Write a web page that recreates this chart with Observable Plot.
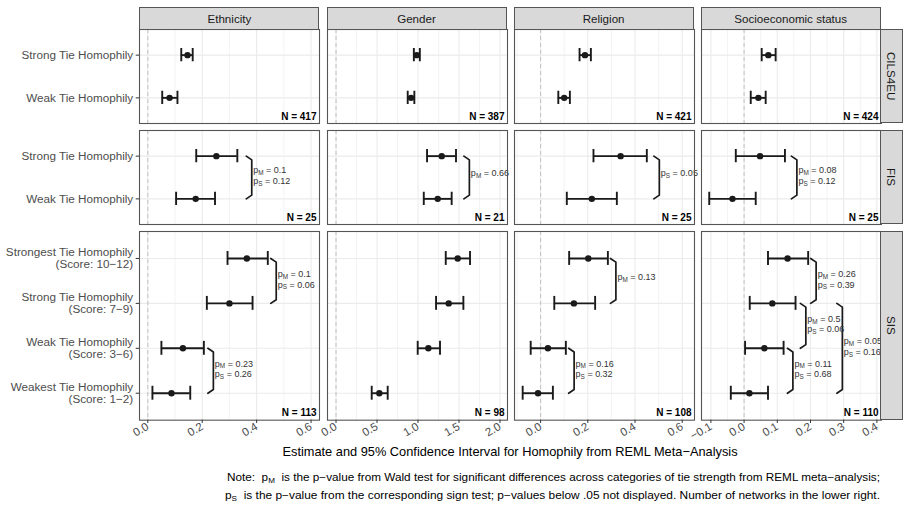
<!DOCTYPE html>
<html><head><meta charset="utf-8">
<script src="https://cdn.jsdelivr.net/npm/d3@7"></script>
<script src="https://cdn.jsdelivr.net/npm/@observablehq/plot@0.6"></script>
<style>
body{margin:0;background:#fff;font-family:"Liberation Sans",Arial,Helvetica,sans-serif;}
#chart{position:relative;width:905px;height:508px;overflow:hidden;background:#fff;}
#chart > svg{position:absolute;}
.strip{position:absolute;box-sizing:border-box;background:#d9d9d9;border:1px solid #555;color:#1a1a1a;font-size:11.6px;display:flex;align-items:center;justify-content:center;}
.strip.v span{writing-mode:vertical-rl;}
.xtitle{position:absolute;left:139px;width:742px;text-align:center;font-size:12.8px;color:#000;white-space:nowrap;}
</style></head><body><div id="chart"></div><script>
// ---------- data ----------
const attributes = ["Ethnicity", "Gender", "Religion", "Socioeconomic status"];
const studies = ["CILS4EU", "FIS", "SIS"];
const tieLabels = [
  ["Strong Tie Homophily", "Weak Tie Homophily"],
  ["Strong Tie Homophily", "Weak Tie Homophily"],
  ["Strongest Tie Homophily\n(Score: 10−12)", "Strong Tie Homophily\n(Score: 7−9)",
   "Weak Tie Homophily\n(Score: 3−6)", "Weakest Tie Homophily\n(Score: 1−2)"]
];
// rows: attribute (Ethnicity, Gender, Religion, SES); columns: tie category (top to bottom)
const cilsEst = [[0.146, 0.080], [0.984, 0.915], [0.188, 0.100], [0.073, 0.043]];
const cilsLo  = [[0.123, 0.053], [0.949, 0.874], [0.165, 0.075], [0.053, 0.020]];
const cilsHi  = [[0.165, 0.109], [1.022, 0.955], [0.213, 0.124], [0.095, 0.065]];
const fisEst  = [[0.252, 0.176], [1.289, 1.240], [0.339, 0.217], [0.048, -0.035]];
const fisLo   = [[0.178, 0.104], [1.110, 1.070], [0.224, 0.111], [-0.025, -0.105]];
const fisHi   = [[0.329, 0.247], [1.463, 1.410], [0.450, 0.323], [0.123, 0.035]];
const sisEst  = [[0.364, 0.300, 0.129, 0.087], [1.484, 1.374, 1.126, 0.528], [0.202, 0.141, 0.031, -0.011], [0.131, 0.085, 0.061, 0.016]];
const sisLo   = [[0.293, 0.217, 0.050, 0.017], [1.338, 1.220, 0.996, 0.435], [0.121, 0.058, -0.042, -0.076], [0.072, 0.017, 0.003, -0.040]];
const sisHi   = [[0.441, 0.385, 0.206, 0.156], [1.634, 1.553, 1.268, 0.630], [0.285, 0.231, 0.107, 0.052], [0.193, 0.155, 0.119, 0.072]];
const networks = [[417, 387, 421, 424], [25, 21, 25, 25], [113, 98, 108, 110]];
// comparison brackets: tie rows "from"-"to", x of bracket in data units, p-values
const brackets = [
  {study: "FIS", attr: "Ethnicity", from: 0, to: 1, at: 0.382, pM: 0.1, pS: 0.12},
  {study: "FIS", attr: "Gender", from: 0, to: 1, at: 1.626, pM: 0.66, pS: null},
  {study: "FIS", attr: "Religion", from: 0, to: 1, at: 0.503, pM: null, pS: 0.05},
  {study: "FIS", attr: "Socioeconomic status", from: 0, to: 1, at: 0.159, pM: 0.08, pS: 0.12},
  {study: "SIS", attr: "Ethnicity", from: 0, to: 1, at: 0.472, pM: 0.1, pS: 0.06},
  {study: "SIS", attr: "Ethnicity", from: 2, to: 3, at: 0.241, pM: 0.23, pS: 0.26},
  {study: "SIS", attr: "Religion", from: 0, to: 1, at: 0.319, pM: 0.13, pS: null},
  {study: "SIS", attr: "Religion", from: 2, to: 3, at: 0.142, pM: 0.16, pS: 0.32},
  {study: "SIS", attr: "Socioeconomic status", from: 0, to: 1, at: 0.217, pM: 0.26, pS: 0.39},
  {study: "SIS", attr: "Socioeconomic status", from: 1, to: 2, at: 0.186, pM: 0.5, pS: 0.06},
  {study: "SIS", attr: "Socioeconomic status", from: 2, to: 3, at: 0.147, pM: 0.11, pS: 0.68},
  {study: "SIS", attr: "Socioeconomic status", from: 1, to: 3, at: 0.296, pM: 0.05, pS: 0.16}
];
const xDomains = [[-0.0305, 0.631], [-0.104, 2.091], [-0.1106, 0.652], [-0.1283, 0.4139]];
const majorTicks = [[0, 0.2, 0.4, 0.6], [0, 0.5, 1, 1.5, 2], [0, 0.2, 0.4, 0.6], [-0.1, 0, 0.1, 0.2, 0.3, 0.4]];
const minorTicks = [[0.1, 0.3, 0.5], [0.25, 0.75, 1.25, 1.75], [-0.1, 0.1, 0.3, 0.5], [-0.05, 0.05, 0.15, 0.25, 0.35]];
const xTitle = "Estimate and 95% Confidence Interval for Homophily from REML Meta−Analysis";

// ---------- layout ----------
const ML = 140, MR = 10, MT = 6, MB = 40;
const colLeft = [139.4, 326.5, 513.6, 700.7], colW = 180;
const rowTop = [29.3, 130, 231.3], rowH = [94, 94, 188.7];
const ink = "#1a1a1a", grid = "#ebebeb";
const estArr = [cilsEst, fisEst, sisEst], loArr = [cilsLo, fisLo, sisLo], hiArr = [cilsHi, fisHi, sisHi];
const chart = document.getElementById("chart");
const NS = "http://www.w3.org/2000/svg";

for (let r = 0; r < 3; r++) {
  for (let c = 0; c < 4; c++) {
    const labels = tieLabels[r], n = labels.length;
    const rows = labels.map((lab, i) => ({i, est: estArr[r][c][i], lo: loArr[r][c][i], hi: hiArr[r][c][i]}));
    const dom = xDomains[c];
    const unitPerPx = (dom[1] - dom[0]) / colW;
    const pxPerRow = rowH[r] / (n - 1 + 1.2);
    const bks = brackets.filter(b => b.study === studies[r] && b.attr === attributes[c]);
    const bkPts = bks.flatMap((b, k) => {
      const hook = b.at - 5.5 * unitPerPx, d = 3.7 / pxPerRow;
      return [{k, x: hook, y: b.from}, {k, x: b.at, y: b.from + d}, {k, x: b.at, y: b.to - d}, {k, x: hook, y: b.to}];
    });
    const pLabels = bks.flatMap(b => {
      const mid = (b.from + b.to) / 2;
      const parts = [];
      if (b.pM != null) parts.push({s: "M", v: b.pM});
      if (b.pS != null) parts.push({s: "S", v: b.pS});
      return parts.map((p, j) => ({x: b.at, y: mid + (parts.length === 1 ? -4 : (j === 0 ? -7 : 3.7)) / pxPerRow, s: p.s, v: p.v}));
    });
    const marks = [
      Plot.ruleX(minorTicks[c], {stroke: grid, strokeWidth: 0.6}),
      Plot.ruleX(majorTicks[c], {stroke: grid, strokeWidth: 1.1}),
      Plot.ruleY(d3.range(n), {stroke: grid, strokeWidth: 1.1}),
      Plot.ruleX([0], {stroke: "#c2c2c2", strokeWidth: 1, strokeDasharray: "4,3"}),
      Plot.ruleY(rows, {y: "i", x1: "lo", x2: "hi", stroke: ink, strokeWidth: 1.9}),
      Plot.ruleX(rows, {x: "lo", y1: d => d.i - 0.155, y2: d => d.i + 0.155, stroke: ink, strokeWidth: 1.9}),
      Plot.ruleX(rows, {x: "hi", y1: d => d.i - 0.155, y2: d => d.i + 0.155, stroke: ink, strokeWidth: 1.9}),
      Plot.dot(rows, {x: "est", y: "i", r: 3.2, fill: ink, stroke: null}),
      Plot.line(bkPts, {x: "x", y: "y", z: "k", stroke: ink, strokeWidth: 1.7, curve: "linear"}),
      Plot.text(pLabels, {x: "x", y: "y", text: d => `p${d.s} = ${d.v}`, textAnchor: "start", dx: 1.5, fontSize: 9, fill: "#333"}),
      Plot.text([networks[r][c]], {frameAnchor: "bottom-right", text: d => `N = ${d}`, textAnchor: "end", lineAnchor: "bottom", dx: -3, dy: -4, fontWeight: "bold", fontSize: 10, fill: "#000"}),
      Plot.frame({stroke: "#555", strokeWidth: 1.1})
    ];
    if (c === 0) marks.push(Plot.axisY(d3.range(n), {tickFormat: i => labels[i], fontSize: 11.7, fill: "#4d4d4d", stroke: "#333", tickSize: 3.3, tickPadding: 3, label: null}));
    if (r === 2) marks.push(Plot.axisX(majorTicks[c], {tickFormat: d3.format(".1f"), tickRotate: -30, textAnchor: "end", fontSize: 11.5, fill: "#4d4d4d", stroke: "#333", tickSize: 3.3, tickPadding: 2, label: null}));
    const svg = Plot.plot({
      width: ML + colW + MR, height: MT + rowH[r] + MB,
      marginLeft: ML, marginRight: MR, marginTop: MT, marginBottom: MB,
      style: "background: transparent; overflow: visible; font-family: 'Liberation Sans', Arial, Helvetica, sans-serif;",
      x: {domain: dom, axis: null},
      y: {domain: [-0.6, n - 0.4], reverse: true, axis: null},
      marks
    });
    svg.style.left = (colLeft[c] - ML) + "px";
    svg.style.top = (rowTop[r] - MT) + "px";
    svg.style.maxWidth = "none";
    // subscripts for p-value labels
    svg.querySelectorAll("text").forEach(t => {
      const m = t.textContent.match(/^p([MS]) = (.+)$/);
      if (!m || t.querySelector("tspan")) return;
      t.textContent = "";
      const a = document.createElementNS(NS, "tspan"); a.textContent = "p";
      const b = document.createElementNS(NS, "tspan"); b.textContent = m[1]; b.setAttribute("font-size", "6.4"); b.setAttribute("dy", "1.8");
      const e = document.createElementNS(NS, "tspan"); e.textContent = " = " + m[2]; e.setAttribute("dy", "-1.8");
      t.append(a, b, e);
    });
    chart.appendChild(svg);
  }
}
// strips
attributes.forEach((a, c) => {
  const s = document.createElement("div");
  s.className = "strip";
  Object.assign(s.style, {left: colLeft[c] + "px", top: "7.3px", width: colW + "px", height: "22.5px"});
  s.textContent = a;
  chart.appendChild(s);
});
studies.forEach((st, r) => {
  const s = document.createElement("div");
  s.className = "strip v";
  Object.assign(s.style, {left: (colLeft[3] + colW - 0.5) + "px", top: rowTop[r] + "px", width: "22.5px", height: rowH[r] + "px"});
  const sp = document.createElement("span"); sp.textContent = st; s.appendChild(sp);
  chart.appendChild(s);
});
// axis title
const t = document.createElement("div");
t.className = "xtitle"; t.style.top = "444px"; t.textContent = xTitle;
chart.appendChild(t);
// caption
const cap = document.createElementNS(NS, "svg");
cap.setAttribute("width", 905); cap.setAttribute("height", 508);
cap.style.left = "0px"; cap.style.top = "0px"; cap.style.pointerEvents = "none";
function capLine(y, pre, sub, post, len) {
  const tx = document.createElementNS(NS, "text");
  tx.setAttribute("x", 880); tx.setAttribute("y", y); tx.setAttribute("text-anchor", "end");
  tx.setAttribute("font-size", "10.2"); tx.setAttribute("fill", "#000");
  tx.setAttribute("font-family", "'Liberation Sans', Arial, sans-serif");
  tx.style.whiteSpace = "pre";
  tx.setAttribute("textLength", len); tx.setAttribute("lengthAdjust", "spacingAndGlyphs");
  const a = document.createElementNS(NS, "tspan"); a.textContent = pre;
  const b = document.createElementNS(NS, "tspan"); b.textContent = sub; b.setAttribute("font-size", "7"); b.setAttribute("dy", "2");
  const e = document.createElementNS(NS, "tspan"); e.textContent = post; e.setAttribute("dy", "-2");
  tx.append(a, b, e);
  cap.appendChild(tx);
}
capLine(480.5, "Note:  p", "M", "  is the p−value from Wald test for significant differences across categories of tie strength from REML meta−analysis;", 653);
capLine(498.5, "p", "S", "  is the p−value from the corresponding sign test; p−values below .05 not displayed. Number of networks in the lower right.", 655);
chart.appendChild(cap);
</script></body></html>
